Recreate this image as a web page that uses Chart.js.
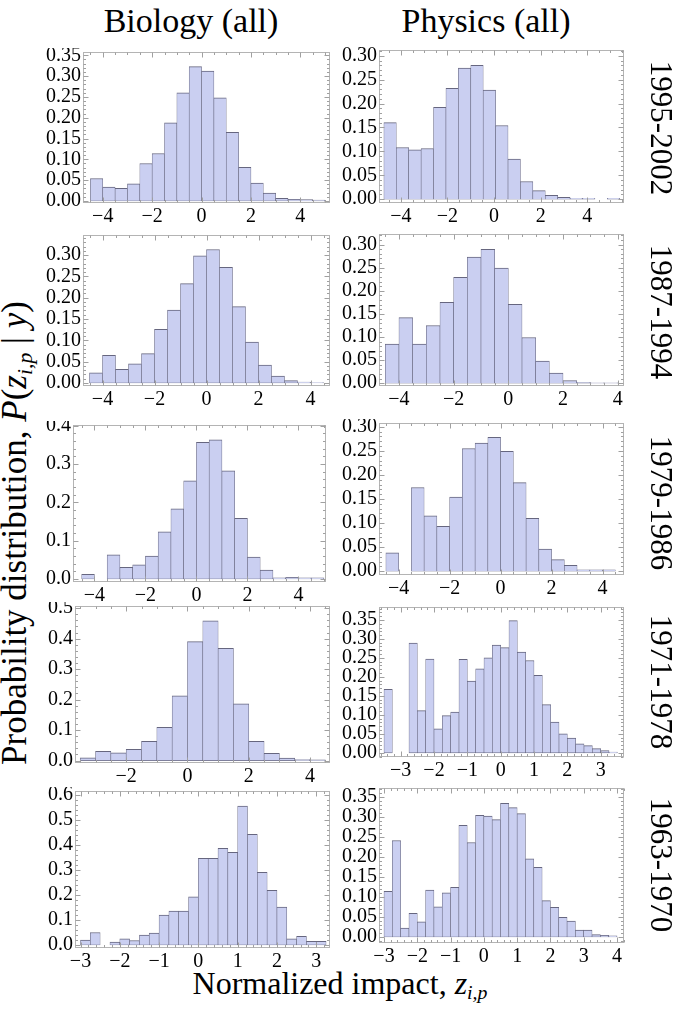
<!DOCTYPE html>
<html>
<head>
<meta charset="utf-8">
<script src="https://cdn.jsdelivr.net/npm/chart.js@4.4.0/dist/chart.umd.min.js"></script>
<style>
  body { margin: 0; background: #fff; width: 677px; height: 1019px; position: relative; overflow: hidden;
         font-family: "Liberation Serif", "Times New Roman", Times, "DejaVu Serif", serif; color: #000; }
  canvas { position: absolute; }
  .lbl { position: absolute; white-space: nowrap; line-height: 1; }
  sub { font-size: 0.62em; vertical-align: -0.25em; }
</style>
</head>
<body>
<div class="lbl" id="colBio">Biology (all)</div>
<div class="lbl" id="colPhy">Physics (all)</div>
<div class="lbl" id="yTitle">Probability distribution, <i>P</i>(<i>z</i><sub><i>i,p</i></sub> | <i>y</i>)</div>
<div class="lbl" id="xTitle">Normalized impact, <i>z</i><sub><i>i,p</i></sub></div>

<script>
// histogram values, one array per panel (bin start + bin width)
const bio95Values = [0.054, 0.033, 0.030, 0.041, 0.090, 0.114, 0.188, 0.260, 0.323, 0.312, 0.248, 0.165, 0.081, 0.043, 0.019, 0.006, 0.004, 0.003, 0.002];
const bio95Bins = { start: -4.5, width: 0.5 };
const phy95Values = [0.160, 0.108, 0.103, 0.106, 0.192, 0.232, 0.274, 0.280, 0.228, 0.154, 0.084, 0.037, 0.018, 0.008, 0.004, 0.002, 0.002, 0, 0.002];
const phy95Bins = { start: -4.73, width: 0.533 };

const bio87Values = [0.024, 0.065, 0.032, 0.045, 0.069, 0.126, 0.171, 0.233, 0.298, 0.313, 0.271, 0.179, 0.096, 0.042, 0.016, 0.0055, 0.002, 0.001];
const bio87Bins = { start: -4.5, width: 0.5 };
const phy87Values = [0.085, 0.142, 0.085, 0.125, 0.175, 0.229, 0.273, 0.290, 0.249, 0.171, 0.099, 0.048, 0.022, 0.006, 0.002, 0.001, 0.001];
const phy87Bins = { start: -4.5, width: 0.5 };

const bio79Values = [0.012, 0, 0.063, 0.030, 0.037, 0.060, 0.123, 0.183, 0.256, 0.357, 0.363, 0.282, 0.158, 0.057, 0.023, 0.003, 0.004, 0.003, 0.003];
const bio79Bins = { start: -4.5, width: 0.5 };
const phy79Values = [0.038, 0, 0.174, 0.115, 0.093, 0.154, 0.255, 0.266, 0.278, 0.249, 0.184, 0.110, 0.046, 0.024, 0.012, 0.003, 0.003, 0.003];
const phy79Bins = { start: -4.5, width: 0.5 };

const bio71Values = [0.009, 0.030, 0.025, 0.037, 0.063, 0.109, 0.212, 0.390, 0.458, 0.368, 0.186, 0.063, 0.024, 0.008, 0.003, 0.002];
const bio71Bins = { start: -3.5, width: 0.5 };
const phy71Values = [0.167, 0, 0, 0.289, 0.111, 0.247, 0.063, 0.098, 0.107, 0.246, 0.189, 0.221, 0.250, 0.284, 0.277, 0.348, 0.265, 0.243, 0.204, 0.127, 0.081, 0.050, 0.039, 0.024, 0.019, 0.011, 0.006, 0.002];
const phy71Bins = { start: -3.5, width: 0.25 };

const bio63Values = [0.020, 0.050, 0, 0.012, 0.025, 0.018, 0.040, 0.048, 0.120, 0.136, 0.136, 0.193, 0.347, 0.347, 0.387, 0.371, 0.556, 0.443, 0.291, 0.219, 0.152, 0.025, 0.035, 0.015, 0.015];
const bio63Bins = { start: -3.0, width: 0.25 };
const phy63Values = [0.114, 0.241, 0.022, 0.059, 0.038, 0.117, 0.075, 0.110, 0.124, 0.279, 0.236, 0.304, 0.302, 0.293, 0.334, 0.323, 0.308, 0.195, 0.174, 0.091, 0.074, 0.049, 0.040, 0.017, 0.017, 0.006, 0.004, 0.003];
const phy63Bins = { start: -3.0, width: 0.25 };

// tick labels
const xTicksWide = [-4, -2, 0, 2, 4];
const xTicksBio71 = [-2, 0, 2, 4];
const xTicksPhy71 = [-3, -2, -1, 0, 1, 2, 3];
const xTicksBio63 = [-3, -2, -1, 0, 1, 2, 3];
const xTicksPhy63 = [-3, -2, -1, 0, 1, 2, 3, 4];
const yTicks30 = [0, 0.05, 0.10, 0.15, 0.20, 0.25, 0.30];
const yTicks35 = [0, 0.05, 0.10, 0.15, 0.20, 0.25, 0.30, 0.35];
const yTicks04 = [0, 0.1, 0.2, 0.3, 0.4];
const yTicks05 = [0, 0.1, 0.2, 0.3, 0.4, 0.5];
const yTicks06 = [0, 0.1, 0.2, 0.3, 0.4, 0.5, 0.6];

const rowLabels = ["1995-2002", "1987-1994", "1979-1986", "1971-1978", "1963-1970"];

const FILL = "#cacff1";
const EDGE = "#66667f";
const FONT = "'Liberation Serif', 'Times New Roman', serif";

// frame: plot rectangle in page pixels, xr/yr: axis ranges
const panels = [
  { values: bio95Values, bins: bio95Bins, xt: xTicksWide, yt: yTicks35, dec: 2, frame: [83, 52, 330, 203], xr: [-4.8, 5.2], yr: [-0.005, 0.358] },
  { values: phy95Values, bins: phy95Bins, xt: xTicksWide, yt: yTicks30, dec: 2, frame: [379, 50, 624, 203], xr: [-4.94, 5.58], yr: [-0.008, 0.312] },
  { values: bio87Values, bins: bio87Bins, xt: xTicksWide, yt: yTicks30, dec: 2, frame: [83, 235, 330, 386], xr: [-4.75, 4.75], yr: [-0.007, 0.347] },
  { values: phy87Values, bins: phy87Bins, xt: xTicksWide, yt: yTicks30, dec: 2, frame: [379, 234, 624, 386], xr: [-4.73, 4.23], yr: [-0.006, 0.323] },
  { values: bio79Values, bins: bio79Bins, xt: xTicksWide, yt: yTicks04, dec: 1, frame: [73, 425, 326, 582], xr: [-4.84, 5.08], yr: [-0.008, 0.402] },
  { values: phy79Values, bins: phy79Bins, xt: xTicksWide, yt: yTicks30, dec: 2, frame: [379, 423, 624, 575], xr: [-4.77, 4.84], yr: [-0.008, 0.308] },
  { values: bio71Values, bins: bio71Bins, xt: xTicksBio71, yt: yTicks05, dec: 1, frame: [75, 606, 330, 763], xr: [-3.67, 4.65], yr: [-0.008, 0.507] },
  { values: phy71Values, bins: phy71Bins, xt: xTicksPhy71, yt: yTicks35, dec: 2, frame: [379, 607, 624, 757], xr: [-3.65, 3.7], yr: [-0.011, 0.384] },
  { values: bio63Values, bins: bio63Bins, xt: xTicksBio63, yt: yTicks06, dec: 1, frame: [75, 791, 330, 948], xr: [-3.14, 3.35], yr: [-0.012, 0.616] },
  { values: phy63Values, bins: phy63Bins, xt: xTicksPhy63, yt: yTicks35, dec: 2, frame: [379, 788, 624, 943], xr: [-3.15, 4.21], yr: [-0.015, 0.372] }
];

const fmtNum = (v, d) => (v < 0 ? "\u2212" : "") + Math.abs(v).toFixed(d);

// gray frame with inward major/minor ticks on all four sides
const framePlugin = {
  id: "frame",
  afterDraw(chart) {
    const { ctx, chartArea: a, scales } = chart;
    const xs = scales.x, ys = scales.y;
    const L = Math.round(a.left) + 0.5, R = Math.round(a.right) - 0.5;
    const T = Math.round(a.top) + 0.5, B = Math.round(a.bottom) - 0.5;
    ctx.save();
    ctx.lineWidth = 1;
    ctx.strokeStyle = "#b4b4b4";
    ctx.strokeRect(L, T, R - L, B - T);
    ctx.strokeStyle = "#a0a0a0";
    const seg = (x1, y1, x2, y2) => { ctx.beginPath(); ctx.moveTo(x1, y1); ctx.lineTo(x2, y2); ctx.stroke(); };
    const minorOf = (t) => {
      const step = t[1] - t[0];
      const lead = Math.round(step / Math.pow(10, Math.floor(Math.log10(step))));
      return step / (lead === 2 ? 4 : 5);
    };
    const xt = chart.options.scales.x.majorTicks, yt = chart.options.scales.y.majorTicks;
    const mx = minorOf(xt), my = minorOf(yt);
    for (let v = xt[0] - Math.floor((xt[0] - xs.min) / mx) * mx; v <= xs.max + 1e-9; v += mx) {
      const major = xt.some(t => Math.abs(t - v) < 1e-6);
      const len = major ? 5 : 2.5;
      const px = Math.round(xs.getPixelForValue(v)) + 0.5;
      seg(px, B, px, B - len);
      seg(px, T, px, T + len);
    }
    for (let v = yt[0] - Math.floor((yt[0] - ys.min) / my) * my; v <= ys.max + 1e-9; v += my) {
      const major = yt.some(t => Math.abs(t - v) < 1e-6);
      const len = major ? 5 : 2.5;
      const py = Math.round(ys.getPixelForValue(v)) + 0.5;
      seg(L, py, L + len, py);
      seg(R, py, R - len, py);
    }
    ctx.restore();
  }
};

const Y_W = 60, X_H = 26, PAD = 4;

panels.forEach((p) => {
  const [x0, y0, x1, y1] = p.frame;
  const canvas = document.createElement("canvas");
  canvas.width = (x1 - x0) + Y_W + PAD;
  canvas.height = (y1 - y0) + X_H + PAD;
  canvas.style.left = (x0 - Y_W) + "px";
  canvas.style.top = (y0 - PAD) + "px";
  document.body.appendChild(canvas);

  const points = p.values.map((v, i) => ({ x: p.bins.start + p.bins.width * (i + 0.5), y: v > 0 ? v : null }));

  new Chart(canvas.getContext("2d"), {
    type: "bar",
    data: {
      datasets: [{
        data: points,
        backgroundColor: FILL,
        borderColor: EDGE,
        borderWidth: { top: 1, left: 0.6, right: 0.6, bottom: 0.6 },
        borderSkipped: false,
        barPercentage: 1,
        categoryPercentage: 1
      }]
    },
    options: {
      responsive: false,
      animation: false,
      devicePixelRatio: 1,
      layout: { padding: { top: PAD, right: PAD, left: 0, bottom: 0 } },
      plugins: { legend: { display: false }, tooltip: { enabled: false } },
      scales: {
        x: {
          type: "linear",
          offset: false,
          min: p.xr[0],
          max: p.xr[1],
          majorTicks: p.xt,
          afterBuildTicks: (s) => { s.ticks = p.xt.map(v => ({ value: v })); },
          afterFit: (s) => { s.height = X_H; s.paddingLeft = 0; s.paddingRight = 0; },
          grid: { display: false, drawTicks: false, offset: false },
          border: { display: false },
          ticks: {
            autoSkip: false, maxRotation: 0, padding: 2, color: "#000",
            font: { family: FONT, size: 20 },
            callback: (v) => fmtNum(v, 0)
          }
        },
        y: {
          min: p.yr[0],
          max: p.yr[1],
          majorTicks: p.yt,
          afterBuildTicks: (s) => { s.ticks = p.yt.map(v => ({ value: v })); },
          afterFit: (s) => { s.width = Y_W; s.paddingTop = 0; s.paddingBottom = 0; },
          grid: { display: false, drawTicks: false },
          border: { display: false },
          ticks: {
            autoSkip: false, padding: 2, color: "#000",
            font: { family: FONT, size: 20 },
            callback: (v) => fmtNum(v, p.dec)
          }
        }
      }
    },
    plugins: [framePlugin]
  });
});

// text placement
function place(el, cx, cy, size, rot) {
  el.style.fontSize = size + "px";
  el.style.left = cx + "px";
  el.style.top = cy + "px";
  el.style.transform = "translate(-50%, -50%)" + (rot ? " rotate(" + rot + "deg)" : "");
}
place(document.getElementById("colBio"), 191, 21, 34, 0);
place(document.getElementById("colPhy"), 486, 21, 34, 0);
place(document.getElementById("yTitle"), 17, 533, 35, -90);
place(document.getElementById("xTitle"), 340, 985, 32, 0);

const rowCenters = [128, 312, 503, 682, 865];
rowLabels.forEach((txt, i) => {
  const el = document.createElement("div");
  el.className = "lbl";
  el.textContent = txt;
  document.body.appendChild(el);
  place(el, 661, rowCenters[i], 31, 90);
});
</script>
</body>
</html>
